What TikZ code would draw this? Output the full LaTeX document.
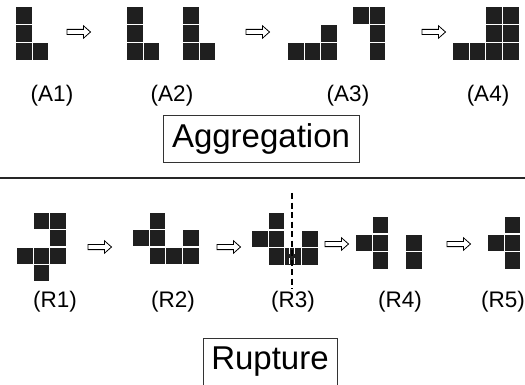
\documentclass[tikz,border=0pt]{standalone}
\usepackage{fontspec}
\setmainfont{Liberation Sans}
\begin{document}
\begin{tikzpicture}[x=1pt,y=-1pt,
  harr/.style={draw=black,line width=0.8pt,fill=white,line join=miter},
  lab/.style={font=\fontsize{22.5}{24}\selectfont,anchor=base,inner sep=0pt},
  title/.style={font=\fontsize{33}{36}\selectfont,draw=black!80,line width=0.9pt,inner sep=0pt},
  cellfill/.style={fill=black!88}]
\useasboundingbox (0,0) rectangle (525,385);
\newcommand\cellsAt[4]{\foreach \i/\j in {#4} {\fill[cellfill] ({#1+\i*16.7},{#2+\j*#3}) rectangle ++(15.6,{#3-1.2});}}
\newcommand\hollowArrow[2]{\draw[harr] (#1,#2) ++(0,-2.6) -- ++(16.5,0) -- ++(0,-3.6) -- ++(7,6.2) -- ++(-7,6.2) -- ++(0,-3.6) -- ++(-16.5,0) -- cycle;}
% ---------- Aggregation ----------
\cellsAt{16}{7}{18}{0/0,0/1,0/2,1/2}
\hollowArrow{67}{32}
\cellsAt{127}{7}{18}{0/0,0/1,0/2,1/2}
\cellsAt{183}{7}{18}{0/0,0/1,0/2,1/2}
\hollowArrow{246}{32}
\cellsAt{288}{25}{18}{2/0,0/1,1/1,2/1}
\cellsAt{353}{7}{18}{0/0,1/0,1/1,1/2}
\hollowArrow{422}{32}
\cellsAt{453}{7}{18}{2/0,3/0,2/1,3/1,0/2,1/2,2/2,3/2}
\node[lab] (a1) at (52,102) {(A1)};
\node[lab] (a2) at (172,102) {(A2)};
\node[lab] (a3) at (348,102) {(A3)};
\node[lab] (a4) at (488,102) {(A4)};
\node[title,minimum width=196pt,minimum height=47pt] (agg) at (261,138.5) {Aggregation};
\draw[line width=1.4pt,black!85] (0,178) -- (525,178);
% ---------- Rupture ----------
\cellsAt{17}{213}{17.3}{1/0,2/0,2/1,0/2,1/2,2/2,1/3}
\hollowArrow{88}{247}
\cellsAt{133}{213}{17.3}{1/0,0/1,1/1,3/1,1/2,2/2,3/2}
\hollowArrow{217}{247}
\cellsAt{252}{213}{17.6}{1/0,0/1,1/1,3/1,1/2,2/2,3/2}
\fill[white] (289,248.4) rectangle (290.4,253.8);
\fill[white] (289,257.6) rectangle (290.4,264);
\fill[white] (293.8,248.4) rectangle (295.2,253.8);
\fill[white] (293.8,257.6) rectangle (295.2,264);
\draw[line width=1.8pt,dash pattern=on 6pt off 3.5pt] (292,193) -- (292,289);
\hollowArrow{325}{244}
\cellsAt{356}{217}{17.6}{1/0,0/1,1/1,1/2,3/1,3/2}
\hollowArrow{447}{244}
\cellsAt{488}{217}{17.6}{1/0,0/1,1/1,1/2}
\node[lab] (r1) at (55,307) {(R1)};
\node[lab] (r2) at (173,307) {(R2)};
\node[lab] (r3) at (293,307) {(R3)};
\node[lab] (r4) at (400,307) {(R4)};
\node[lab] (r5) at (503,307) {(R5)};
\node[title,minimum width=134pt,minimum height=47pt] (rup) at (270,361.5) {Rupture};
\end{tikzpicture}
\end{document}
